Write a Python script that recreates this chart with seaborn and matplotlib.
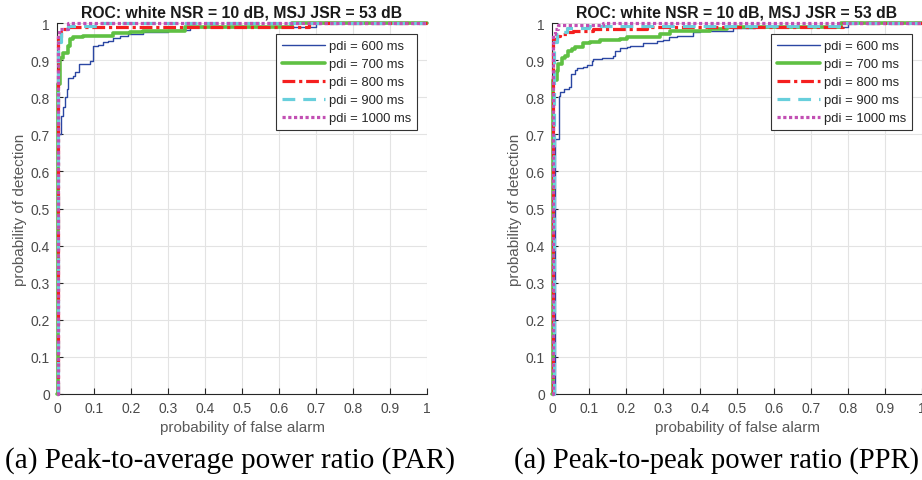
import matplotlib
matplotlib.use("Agg")
import matplotlib.pyplot as plt
import matplotlib.ticker as mticker
import seaborn as sns
import pandas as pd

# ---------------- data ----------------
pdi_labels = ["pdi = 600 ms", "pdi = 700 ms", "pdi = 800 ms", "pdi = 900 ms", "pdi = 1000 ms"]

# (a) PAR
par600_pfa = [0, 0.004, 0.011, 0.017, 0.022, 0.026, 0.031, 0.044, 0.049, 0.06, 0.089, 0.096, 0.112,
              0.125, 0.139, 0.152, 0.17, 0.193, 0.233, 0.30, 0.36, 0.70, 1.0]
par600_pd = [0, 0.70, 0.749, 0.773, 0.80, 0.822, 0.853, 0.858, 0.867, 0.889, 0.898, 0.939, 0.941,
             0.948, 0.952, 0.96, 0.966, 0.97, 0.975, 0.98, 0.99, 1.0, 1.0]
par700_pfa = [0, 0.004, 0.008, 0.017, 0.031, 0.035, 0.044, 0.071, 0.152, 0.197, 0.233, 0.346, 0.635, 1.0]
par700_pd = [0, 0.836, 0.907, 0.92, 0.939, 0.957, 0.963, 0.966, 0.972, 0.976, 0.979, 0.99, 1.0, 1.0]
par800_pfa = [0, 0.003, 0.01, 0.017, 0.031, 0.68, 1.0]
par800_pd = [0, 0.961, 0.975, 0.984, 0.988, 1.0, 1.0]
par900_pfa = [0, 0.003, 0.012, 0.03, 0.12, 1.0]
par900_pd = [0, 0.95, 0.985, 0.993, 1.0, 1.0]
par1000_pfa = [0, 0.002, 0.005, 0.03, 1.0]
par1000_pd = [0, 0.97, 0.985, 1.0, 1.0]

# (b) PPR
ppr600_pfa = [0, 0.008, 0.02, 0.022, 0.032, 0.047, 0.051, 0.062, 0.068, 0.085, 0.094, 0.107, 0.112,
              0.134, 0.166, 0.17, 0.184, 0.202, 0.211, 0.247, 0.283, 0.30, 0.315, 0.337, 0.382, 0.40,
              0.49, 0.549, 0.80, 1.0]
ppr600_pd = [0, 0.687, 0.804, 0.815, 0.822, 0.827, 0.863, 0.872, 0.878, 0.881, 0.886, 0.898, 0.903,
             0.907, 0.912, 0.925, 0.932, 0.935, 0.937, 0.945, 0.952, 0.955, 0.961, 0.966, 0.975, 0.979,
             0.986, 0.988, 1.0, 1.0]
ppr700_pfa = [0, 0.004, 0.013, 0.017, 0.026, 0.035, 0.044, 0.053, 0.062, 0.085, 0.103, 0.13, 0.184,
              0.202, 0.292, 0.319, 0.427, 0.472, 0.78, 1.0]
ppr700_pd = [0, 0.846, 0.871, 0.889, 0.905, 0.912, 0.925, 0.93, 0.934, 0.945, 0.948, 0.955, 0.957,
             0.963, 0.97, 0.979, 0.985, 0.99, 1.0, 1.0]
ppr800_pfa = [0, 0.004, 0.013, 0.022, 0.04, 0.058, 0.112, 0.2, 0.256, 0.787, 1.0]
ppr800_pd = [0, 0.957, 0.965, 0.97, 0.975, 0.979, 0.983, 0.985, 0.99, 1.0, 1.0]
ppr900_pfa = [0, 0.005, 0.013, 0.022, 0.04, 0.1, 0.79, 1.0]
ppr900_pd = [0, 0.95, 0.97, 0.975, 0.986, 0.993, 1.0, 1.0]
ppr1000_pfa = [0, 0.003, 0.007, 0.017, 0.139, 1.0]
ppr1000_pd = [0, 0.97, 0.984, 0.995, 1.0, 1.0]

title_text = "ROC: white NSR = 10 dB, MSJ JSR = 53 dB"
xlabel_text = "probability of false alarm"
ylabel_text = "probability of detection"
captions = ["(a) Peak-to-average power ratio (PAR)", "(a) Peak-to-peak power ratio (PPR)"]
ticks = [0, 0.1, 0.2, 0.3, 0.4, 0.5, 0.6, 0.7, 0.8, 0.9, 1.0]

# ---------------- style ----------------
sns.set_theme(style="whitegrid")
plt.rcParams["font.family"] = ["Liberation Sans", "DejaVu Sans"]

colors = ["#2b47a3", "#5fc043", "#f51f1f", "#68cfdc", "#c24fb3"]
widths = [1.0, 2.6, 2.3, 2.3, 2.3]
styles = ["-", "-", (0, (4, 1.2, 1, 1.2)), (0, (4, 2.5)), (0, (1, 0.8))]

fig = plt.figure(figsize=(9.22, 4.81), dpi=100)
ax1 = fig.add_axes([57 / 922, 86 / 481, 370 / 922, 371 / 481])
ax2 = fig.add_axes([552 / 922, 86 / 481, 370 / 922, 371 / 481])

panels = [
    (ax1, [(par600_pfa, par600_pd), (par700_pfa, par700_pd), (par800_pfa, par800_pd),
           (par900_pfa, par900_pd), (par1000_pfa, par1000_pd)]),
    (ax2, [(ppr600_pfa, ppr600_pd), (ppr700_pfa, ppr700_pd), (ppr800_pfa, ppr800_pd),
           (ppr900_pfa, ppr900_pd), (ppr1000_pfa, ppr1000_pd)]),
]

fmt = mticker.FuncFormatter(lambda v, p: "%g" % round(v, 2))

for ax, series in panels:
    for i, (xs, ys) in enumerate(series):
        df = pd.DataFrame({"pfa": xs, "pd": ys})
        sns.lineplot(data=df, x="pfa", y="pd", ax=ax, estimator=None, sort=False,
                     color=colors[i], linewidth=widths[i], linestyle=styles[i],
                     drawstyle="steps-post", label=pdi_labels[i], clip_on=False, zorder=3 + i)
    ax.set_xlim(0, 1)
    ax.set_ylim(0, 1)
    ax.set_xticks(ticks)
    ax.set_yticks(ticks)
    ax.xaxis.set_major_formatter(fmt)
    ax.yaxis.set_major_formatter(fmt)
    ax.set_facecolor("white")
    ax.grid(True, color="#e3e3e3", linewidth=0.8)
    for s in ["top", "right"]:
        ax.spines[s].set_visible(False)
    for s in ["left", "bottom"]:
        ax.spines[s].set_visible(True)
        ax.spines[s].set_color("#262626")
        ax.spines[s].set_linewidth(0.8)
    ax.tick_params(axis="both", direction="in", length=4, width=0.8, color="#262626",
                   labelsize=10, labelcolor="#4a4a4a", pad=5, bottom=True, left=True)
    ax.set_xlabel(xlabel_text, fontsize=11, color="#595959", labelpad=4)
    ax.set_ylabel(ylabel_text, fontsize=11, color="#595959", labelpad=3)
    ax.set_title(title_text, fontsize=11.3, fontweight="bold", color="#1a1a1a", pad=5)
    leg = ax.legend(loc="upper right", bbox_to_anchor=(0.973, 0.970), borderaxespad=0,
                    fancybox=False, framealpha=1, edgecolor="#333333", fontsize=9.4,
                    handlelength=3.3, handletextpad=0.3, labelspacing=0.45,
                    borderpad=0.45, facecolor="white")
    leg.get_frame().set_linewidth(0.8)
    for t in leg.get_texts():
        t.set_color("#262626")

fig.text(230 / 922, 0.028, captions[0], ha="center", va="baseline", fontsize=21,
         family=["Liberation Serif", "DejaVu Serif"], color="black")
fig.text(716 / 922, 0.028, captions[1], ha="center", va="baseline", fontsize=20.6,
         family=["Liberation Serif", "DejaVu Serif"], color="black")

fig.savefig("out.png", dpi=100, facecolor="white")
